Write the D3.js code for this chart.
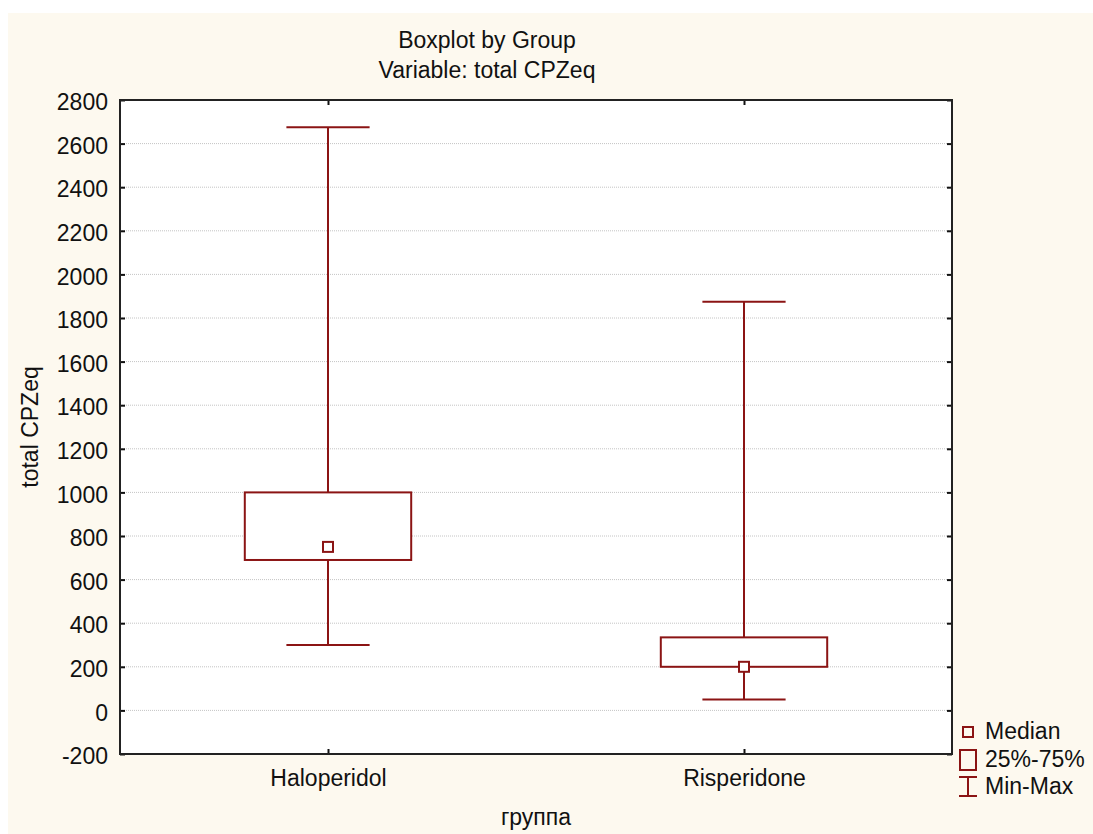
<!DOCTYPE html>
<html>
<head>
<meta charset="utf-8">
<script src="https://cdn.jsdelivr.net/npm/d3@7"></script>
<style>
  body { margin: 0; background: #fff; }
  svg text { font-family: "Liberation Sans", Arial, sans-serif; fill: #111; }
</style>
</head>
<body>
<svg width="1093" height="834"></svg>
<script>
const groups = ["Haloperidol", "Risperidone"];
const mins = [300, 50];
const q1s = [690, 200];
const medians = [750, 200];
const q3s = [1000, 335];
const maxs = [2675, 1875];
const yTicks = [-200, 0, 200, 400, 600, 800, 1000, 1200, 1400, 1600, 1800, 2000, 2200, 2400, 2600, 2800];
const legendItems = ["Median", "25%-75%", "Min-Max"];

const svg = d3.select("svg");
const boxColor = "#8b1414";
const plotL = 120, plotR = 952, plotT = 100, plotB = 754;

svg.append("rect")
    .attr("x", 8).attr("y", 13)
    .attr("width", 1085).attr("height", 821)
    .attr("fill", "#fdf9ef");

svg.append("rect")
    .attr("x", plotL).attr("y", plotT)
    .attr("width", plotR - plotL).attr("height", plotB - plotT)
    .attr("fill", "#fff");

const x = d3.scalePoint().domain(groups).range([plotL, plotR]).padding(0.5);
const y = d3.scaleLinear().domain([-200, 2800]).range([plotB, plotT]);

// gridlines
svg.append("g")
    .selectAll("line")
    .data(yTicks.filter(d => d > -200 && d < 2800))
    .enter()
    .append("line")
    .attr("x1", plotL).attr("x2", plotR)
    .attr("y1", d => y(d)).attr("y2", d => y(d))
    .attr("stroke", "#c4c4c4")
    .attr("stroke-width", 1)
    .attr("stroke-dasharray", "1,1");

// axes with inward ticks
const styleAxis = g => {
    g.select(".domain").remove();
    g.selectAll(".tick line").attr("stroke", "#111").attr("stroke-width", 2);
    g.selectAll(".tick text").style("font-size", "23px").attr("fill", "#111");
};

svg.append("g")
    .attr("transform", `translate(${plotL},0)`)
    .call(d3.axisLeft(y).tickValues(yTicks).tickFormat(d => String(d)).tickSize(-5).tickPadding(12))
    .call(styleAxis)
    .selectAll(".tick text").attr("dy", "0.42em");

svg.append("g")
    .attr("transform", `translate(${plotR},0)`)
    .call(d3.axisRight(y).tickValues(yTicks).tickSize(-5).tickFormat(""))
    .call(styleAxis);

svg.append("g")
    .attr("transform", `translate(0,${plotB})`)
    .call(d3.axisBottom(x).tickSize(-5).tickPadding(16))
    .call(styleAxis);

svg.append("g")
    .attr("transform", `translate(0,${plotT})`)
    .call(d3.axisTop(x).tickSize(-5).tickFormat(""))
    .call(styleAxis);

// frame
svg.append("rect")
    .attr("x", plotL).attr("y", plotT)
    .attr("width", plotR - plotL).attr("height", plotB - plotT)
    .attr("fill", "none")
    .attr("stroke", "#222")
    .attr("stroke-width", 2);

// boxes
const step = x.step();
const boxW = step * 0.4, capW = step * 0.2;
const data = groups.map((g, i) => ({
    g, min: mins[i], q1: q1s[i], med: medians[i], q3: q3s[i], max: maxs[i]
}));

const bx = svg.append("g").selectAll("g").data(data).enter().append("g");

bx.append("line")
    .attr("x1", d => x(d.g)).attr("x2", d => x(d.g))
    .attr("y1", d => y(d.max)).attr("y2", d => y(d.min))
    .attr("stroke", boxColor).attr("stroke-width", 2);

bx.append("line")
    .attr("x1", d => x(d.g) - capW / 2).attr("x2", d => x(d.g) + capW / 2)
    .attr("y1", d => y(d.max)).attr("y2", d => y(d.max))
    .attr("stroke", boxColor).attr("stroke-width", 2);

bx.append("line")
    .attr("x1", d => x(d.g) - capW / 2).attr("x2", d => x(d.g) + capW / 2)
    .attr("y1", d => y(d.min)).attr("y2", d => y(d.min))
    .attr("stroke", boxColor).attr("stroke-width", 2);

bx.append("rect")
    .attr("x", d => x(d.g) - boxW / 2)
    .attr("y", d => y(d.q3))
    .attr("width", boxW)
    .attr("height", d => y(d.q1) - y(d.q3))
    .attr("fill", "#fff")
    .attr("stroke", boxColor).attr("stroke-width", 2);

bx.append("rect")
    .attr("x", d => x(d.g) - 5)
    .attr("y", d => y(d.med) - 5)
    .attr("width", 10).attr("height", 10)
    .attr("fill", "#fff")
    .attr("stroke", boxColor).attr("stroke-width", 2);

// titles
svg.append("text")
    .attr("x", 487).attr("y", 48)
    .attr("text-anchor", "middle")
    .style("font-size", "23px")
    .text("Boxplot by Group");

svg.append("text")
    .attr("x", 487).attr("y", 78)
    .attr("text-anchor", "middle")
    .style("font-size", "23px")
    .text("Variable: total CPZeq");

svg.append("text")
    .attr("transform", "translate(38,427) rotate(-90)")
    .attr("text-anchor", "middle")
    .style("font-size", "23px")
    .text("total CPZeq");

svg.append("text")
    .attr("x", (plotL + plotR) / 2).attr("y", 825)
    .attr("text-anchor", "middle")
    .style("font-size", "23px")
    .text("группа");

// legend
const lg = svg.append("g");
lg.append("rect")
    .attr("x", 963).attr("y", 727).attr("width", 10).attr("height", 10)
    .attr("fill", "none").attr("stroke", boxColor).attr("stroke-width", 2);
lg.append("rect")
    .attr("x", 960).attr("y", 750).attr("width", 16).attr("height", 20)
    .attr("fill", "none").attr("stroke", boxColor).attr("stroke-width", 2);
lg.append("path")
    .attr("d", "M959,777H977M968,777V796M959,796H977")
    .attr("fill", "none").attr("stroke", boxColor).attr("stroke-width", 2);

lg.selectAll("text")
    .data(legendItems)
    .enter()
    .append("text")
    .attr("x", 985)
    .attr("y", (d, i) => 739 + i * 27.5)
    .style("font-size", "23px")
    .text(d => d);
</script>
</body>
</html>
